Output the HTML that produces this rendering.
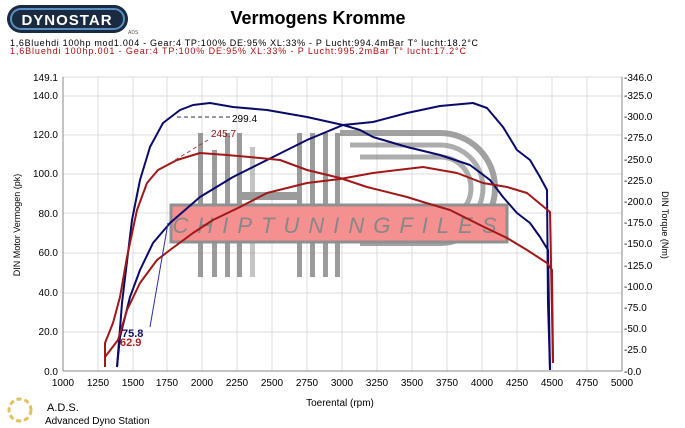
<!DOCTYPE html>
<html><head><style>
body{margin:0;background:#fff;}
svg{display:block;font-family:"Liberation Sans",sans-serif;}
</style></head><body>
<svg width="685" height="428" viewBox="0 0 685 428" xmlns="http://www.w3.org/2000/svg">
<rect width="685" height="428" fill="#fff"/>
<!-- logo -->
<rect x="7" y="5" width="121" height="28" rx="14" fill="#1a2a40"/>
<rect x="11" y="9" width="113" height="20" rx="10" fill="none" stroke="#5a8fc0" stroke-width="2"/>
<text x="67" y="25" text-anchor="middle" font-size="15" font-weight="bold" fill="#fff" letter-spacing="1">DYNOSTAR</text>
<text x="128" y="34" font-size="5" fill="#555">ADS</text>
<text x="318" y="24" text-anchor="middle" font-size="18" font-weight="bold" fill="#000">Vermogens Kromme</text>
<text x="10" y="46" font-size="9" fill="#000" textLength="468" lengthAdjust="spacing">1,6Bluehdi 100hp mod1.004 - Gear:4 TP:100% DE:95% XL:33%    - P Lucht:994.4mBar T° lucht:18.2°C</text>
<text x="10" y="54" font-size="9" fill="#b01010" textLength="456" lengthAdjust="spacing">1,6Bluehdi 100hp.001 - Gear:4 TP:100% DE:95% XL:33%   - P Lucht:995.2mBar T° lucht:17.2°C</text>
<!-- grid -->
<g stroke="#dcdcdc" stroke-width="1">
<line x1="63" y1="77" x2="622" y2="77"/>
<line x1="63" y1="96" x2="622" y2="96"/><line x1="63" y1="135" x2="622" y2="135"/>
<line x1="63" y1="174" x2="622" y2="174"/><line x1="63" y1="213" x2="622" y2="213"/>
<line x1="63" y1="253" x2="622" y2="253"/><line x1="63" y1="293" x2="622" y2="293"/>
<line x1="63" y1="332" x2="622" y2="332"/>
<line x1="98" y1="77" x2="98" y2="371"/><line x1="133" y1="77" x2="133" y2="371"/>
<line x1="167" y1="77" x2="167" y2="371"/><line x1="202" y1="77" x2="202" y2="371"/>
<line x1="237" y1="77" x2="237" y2="371"/><line x1="272" y1="77" x2="272" y2="371"/>
<line x1="307" y1="77" x2="307" y2="371"/><line x1="342" y1="77" x2="342" y2="371"/>
<line x1="377" y1="77" x2="377" y2="371"/><line x1="412" y1="77" x2="412" y2="371"/>
<line x1="447" y1="77" x2="447" y2="371"/><line x1="482" y1="77" x2="482" y2="371"/>
<line x1="517" y1="77" x2="517" y2="371"/><line x1="552" y1="77" x2="552" y2="371"/>
<line x1="587" y1="77" x2="587" y2="371"/><line x1="622" y1="77" x2="622" y2="371"/>
</g>
<g stroke="#888"><line x1="63" y1="77" x2="63" y2="371"/><line x1="63" y1="371" x2="622" y2="371"/><line x1="622" y1="77" x2="622" y2="371"/></g>
<!-- watermark -->
<g fill="#8a8a8a" opacity="0.85">
<rect x="198" y="133" width="5" height="144"/><rect x="212" y="150" width="5" height="127"/>
<rect x="225" y="133" width="5" height="144"/><rect x="237" y="133" width="5" height="144"/>
<rect x="250" y="147" width="5" height="130" opacity="0.6"/>
<rect x="240" y="192" width="60" height="8"/>
<rect x="297" y="133" width="5" height="144"/><rect x="310" y="133" width="5" height="144"/>
<rect x="323" y="133" width="5" height="144"/><rect x="335" y="133" width="5" height="144"/>
</g>
<path d="M340,133 H440 A55,55 0 0 1 440,243 H360" fill="none" stroke="#8a8a8a" stroke-width="6" opacity="0.8"/>
<path d="M350,145 H440 A43,43 0 0 1 440,231" fill="none" stroke="#8a8a8a" stroke-width="5" opacity="0.7"/>
<path d="M360,157 H440 A31,31 0 0 1 440,219" fill="none" stroke="#8a8a8a" stroke-width="5" opacity="0.7"/>
<rect x="171" y="205" width="336" height="37" fill="#f49090" stroke="#909090" stroke-width="3"/>
<text x="339" y="233" text-anchor="middle" font-size="22" font-style="italic" fill="#888" letter-spacing="9">CHIPTUNINGFILES</text>
<!-- curves -->
<g fill="none" stroke-width="2" stroke-linejoin="round">
<polyline stroke="#0a0a6a" points="117,367 122,303 132,220 140,180 150,147 163,123 180,110 193,105 210,103 233,107 267,110 307,117 343,125 360,130 373,137 407,147 440,155 470,165 490,180 503,197 517,213 530,223 540,237 548,250 550,370"/>
<polyline stroke="#0a0a6a" points="117,367 120,337 130,297 140,270 153,243 170,223 200,197 233,177 267,160 307,140 343,125 373,122 407,113 440,106 473,103 487,108 503,127 517,150 530,160 540,177 547,190 548,303 550,370"/>
<polyline stroke="#a01818" points="105,367 105,343 113,323 120,297 127,257 137,210 147,183 158,170 177,160 200,153 227,155 260,158 280,160 307,170 340,178 367,187 407,197 423,202 450,210 480,225 507,238 527,250 547,263 552,270 553,363"/>
<polyline stroke="#a01818" points="105,357 118,340 127,310 140,283 157,260 170,250 193,233 213,220 240,207 267,193 307,183 340,179 373,173 423,167 457,173 483,183 507,187 527,193 550,212 553,363"/>
</g>
<line x1="150" y1="327" x2="168" y2="223" stroke="#3030a0" stroke-width="1"/>
<line x1="177" y1="117" x2="230" y2="117" stroke="#333" stroke-dasharray="4,3"/>
<line x1="175" y1="160" x2="208" y2="140" stroke="#a04040" stroke-dasharray="4,3"/>
<text x="232" y="122" font-size="10" fill="#000">299.4</text>
<text x="211" y="137" font-size="10" fill="#8a1010">245.7</text>
<text x="122" y="337" font-size="11" font-weight="bold" fill="#101060">75.8</text>
<text x="120" y="346" font-size="11" font-weight="bold" fill="#b02020">62.9</text>
<!-- left axis labels -->
<g font-size="10" fill="#000" text-anchor="end">
<text x="58" y="81">149.1</text><text x="58" y="99">140.0</text><text x="58" y="138">120.0</text>
<text x="58" y="177">100.0</text><text x="58" y="217">80.0</text><text x="58" y="256">60.0</text>
<text x="58" y="296">40.0</text><text x="58" y="335">20.0</text><text x="58" y="375">0.0</text>
</g>
<g font-size="10" fill="#000">
<text x="624" y="81">-346.0</text><text x="624" y="99">-325.0</text><text x="624" y="120">-300.0</text>
<text x="624" y="141">-275.0</text><text x="624" y="163">-250.0</text><text x="624" y="184">-225.0</text>
<text x="624" y="205">-200.0</text><text x="624" y="226">-175.0</text><text x="624" y="247">-150.0</text>
<text x="624" y="269">-125.0</text><text x="624" y="290">-100.0</text><text x="624" y="311">-75.0</text>
<text x="624" y="332">-50.0</text><text x="624" y="353">-25.0</text><text x="624" y="375">-0.0</text>
</g>
<g font-size="10" fill="#000" text-anchor="middle">
<text x="63" y="386">1000</text><text x="98" y="386">1250</text><text x="133" y="386">1500</text>
<text x="167" y="386">1750</text><text x="202" y="386">2000</text><text x="237" y="386">2250</text>
<text x="272" y="386">2500</text><text x="307" y="386">2750</text><text x="342" y="386">3000</text>
<text x="377" y="386">3250</text><text x="412" y="386">3500</text><text x="447" y="386">3750</text>
<text x="482" y="386">4000</text><text x="517" y="386">4250</text><text x="552" y="386">4500</text>
<text x="587" y="386">4750</text><text x="622" y="386">5000</text>
<text x="340" y="406">Toerental (rpm)</text>
</g>
<text transform="translate(20,225) rotate(-90)" font-size="9" text-anchor="middle">DIN Motor Vermogen (pk)</text>
<text transform="translate(662,225) rotate(90)" font-size="9" text-anchor="middle">DIN Torque (Nm)</text>
<!-- ADS logo -->
<circle cx="20" cy="410" r="11" fill="none" stroke="#e0c060" stroke-width="3" stroke-dasharray="5,3"/>
<text x="47" y="411" font-size="11" fill="#000">A.D.S.</text>
<text x="45" y="424" font-size="10" fill="#000">Advanced Dyno Station</text>
</svg>
</body></html>
